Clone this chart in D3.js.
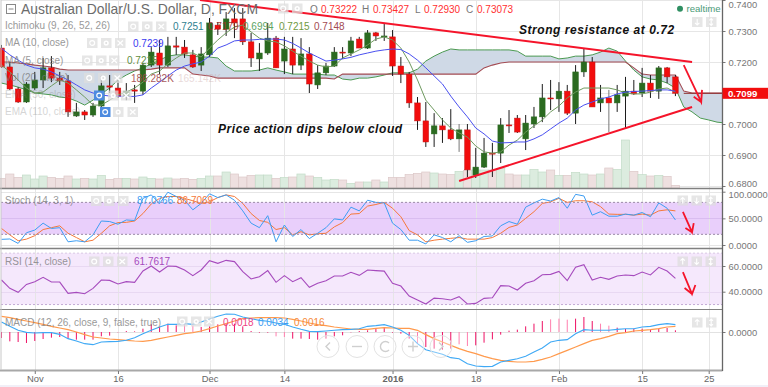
<!DOCTYPE html>
<html lang="en">
<head>
  <meta charset="UTF-8">
  <title>AUD/USD</title>
  <script src="https://d3js.org/d3.v7.min.js" charset="utf-8"></script>
  <style>
    html, body { margin: 0; padding: 0; background: #fff; overflow: hidden; }
    svg { display: block; font-family: 'Liberation Sans', Arial, sans-serif; }
    .axis text { fill: #777; font-size: 9.4px; }
    .axis .tick line { stroke: #777; }
    .axis .domain { display: none; }
    .legend { fill: #777; font-size: 10px; opacity: .75; }
  </style>
</head>
<body>
  <div id="wrapper"></div>
  <script>
    // daily candles, one entry per trading day
    const opens = [
      .7245,.7184,.7113,.7071,.7116,.7142,.7181,.7148,.7139,.7026,
      .7039,.7029,.7058,.7123,.7116,.7090,.7110,.7106,.7190,.7229,
      .7190,.7252,.7248,.7223,.7190,.7223,.7319,.7306,.7339,.7339,
      .7265,.7210,.7229,.7277,.7203,.7242,.7190,.7226,.7126,.7165,
      .7187,.7232,.7229,.7274,.7245,.7294,.7281,.7281,.7187,.7161,
      .7068,.7010,.6968,.6994,.6981,.6952,.6981,.6835,.6861,.6906,
      .6906,.6997,.7019,.6952,.7000,.7023,.7084,.7081,.7106,.7035,
      .7168,.7200,.7068,.7084,.7068,.7090,.7106,.7100,.7132,.7106,
      .7181,.7152]
    const highs = [
      .7255,.7200,.7119,.7135,.7168,.7213,.7219,.7168,.7158,.7068,
      .7045,.7068,.7155,.7158,.7142,.7132,.7126,.7197,.7248,.7271,
      .7281,.7281,.7271,.7239,.7248,.7342,.7329,.7361,.7374,.7374,
      .7294,.7261,.7326,.7284,.7281,.7281,.7277,.7248,.7190,.7197,
      .7248,.7248,.7281,.7281,.7303,.7297,.7326,.7303,.7216,.7168,
      .7087,.7071,.7035,.7019,.7048,.7000,.7000,.6923,.6955,.6939,
      .7019,.7045,.7029,.7029,.7055,.7129,.7142,.7135,.7126,.7190,
      .7242,.7216,.7126,.7110,.7126,.7152,.7142,.7181,.7158,.7187,
      .7184,.7158]
    const lows = [
      .7181,.7110,.7068,.7068,.7110,.7116,.7135,.7126,.7023,.7023,
      .7013,.7023,.7055,.7100,.7084,.7077,.7068,.7094,.7184,.7161,
      .7184,.7223,.7213,.7181,.7171,.7216,.7287,.7284,.7277,.7255,
      .7184,.7171,.7223,.7181,.7161,.7161,.7174,.7100,.7113,.7158,
      .7184,.7210,.7219,.7245,.7242,.7268,.7268,.7155,.7132,.7052,
      .6981,.6926,.6926,.6939,.6948,.6910,.6829,.6826,.6858,.6829,
      .6874,.6971,.6971,.6916,.6987,.7006,.7045,.7039,.7029,.7000,
      .7152,.7055,.7039,.6974,.7039,.6984,.7094,.7087,.7084,.7081,
      .7132,.7090]
    const closes = [
      .7184,.7113,.7071,.7129,.7142,.7181,.7148,.7139,.7039,.7039,
      .7029,.7058,.7123,.7119,.7090,.7106,.7106,.7190,.7232,.7190,
      .7252,.7248,.7226,.7184,.7226,.7326,.7306,.7339,.7326,.7265,
      .7213,.7229,.7277,.7181,.7242,.7190,.7226,.7129,.7165,.7187,
      .7232,.7229,.7268,.7245,.7294,.7284,.7284,.7187,.7161,.7068,
      .7010,.6942,.6994,.6981,.6952,.6981,.6852,.6861,.6906,.6903,
      .6997,.6994,.6974,.7003,.7023,.7084,.7081,.7106,.7035,.7168,
      .7200,.7055,.7084,.7068,.7094,.7106,.7097,.7132,.7106,.7181,
      .7152,.7099]
    const volumes = [
      77,112,85,104,72,96,85,77,96,72,
      77,72,101,69,75,77,72,88,77,72,
      80,72,77,69,75,96,96,128,112,88,
      101,104,104,77,85,88,112,96,85,64,
      69,64,37,48,48,64,48,85,85,107,
      117,128,120,112,107,133,139,144,144,144,
      157,112,104,104,149,128,144,101,101,125,
      112,104,112,160,149,384,133,107,96,101,
      93,21]
    const ma10 = [
      .7244,.7223,.7206,.7190,.7181,.7177,.7168,.7155,.7142,.7126,
      .7110,.7100,.7094,.7090,.7090,.7089,.7089,.7094,.7116,.7135,
      .7155,.7174,.7187,.7194,.7200,.7219,.7245,.7255,.7268,.7271,
      .7271,.7273,.7274,.7274,.7271,.7260,.7245,.7229,.7216,.7203,
      .7206,.7210,.7215,.7223,.7229,.7235,.7239,.7242,.7240,.7226,
      .7206,.7181,.7155,.7129,.7090,.7055,.7023,.6987,.6968,.6945,
      .6939,.6940,.6942,.6942,.6952,.6965,.6984,.7003,.7019,.7045,
      .7061,.7071,.7081,.7087,.7097,.7103,.7105,.7106,.7108,.7110,
      .7110,.7106]
    const ma5 = [
      .7190,.7168,.7142,.7116,.7100,.7103,.7123,.7142,.7132,.7110,
      .7087,.7061,.7061,.7077,.7094,.7103,.7116,.7135,.7161,.7171,
      .7194,.7213,.7229,.7229,.7216,.7245,.7271,.7294,.7313,.7319,
      .7297,.7277,.7268,.7265,.7252,.7235,.7219,.7203,.7190,.7184,
      .7187,.7213,.7226,.7239,.7255,.7274,.7281,.7271,.7245,.7200,
      .7142,.7077,.7045,.7013,.6987,.6971,.6958,.6929,.6910,.6906,
      .6910,.6932,.6948,.6974,.6994,.7013,.7039,.7058,.7084,.7103,
      .7116,.7116,.7116,.7116,.7110,.7100,.7097,.7097,.7103,.7113,
      .7116,.7103]
    // cloud runs past the last candle, it is displaced forward
    const senkouA = [
      .7132,.7126,.7119,.7110,.7100,.7097,.7094,.7087,.7084,.7074,
      .7061,.7077,.7097,.7116,.7142,.7158,.7171,.7181,.7194,.7206,
      .7219,.7223,.7223,.7219,.7216,.7216,.7213,.7187,.7171,.7171,
      .7171,.7174,.7181,.7174,.7168,.7161,.7161,.7161,.7161,.7158,
      .7158,.7145,.7142,.7148,.7148,.7152,.7158,.7165,.7165,.7165,
      .7177,.7203,.7219,.7232,.7242,.7239,.7239,.7239,.7239,.7239,
      .7239,.7239,.7235,.7219,.7219,.7219,.7219,.7210,.7213,.7219,
      .7219,.7223,.7232,.7245,.7235,.7203,.7174,.7152,.7145,.7142,
      .7132,.7116,.7055,.7039,.7019,.7013,.7006,.7003]
    const senkouB = [
      .7200,.7200,.7197,.7194,.7190,.7187,.7184,.7177,.7174,.7174,
      .7174,.7174,.7174,.7174,.7174,.7174,.7174,.7174,.7177,.7181,
      .7181,.7181,.7181,.7161,.7158,.7155,.7148,.7148,.7148,.7148,
      .7148,.7148,.7148,.7148,.7148,.7148,.7148,.7148,.7148,.7148,
      .7145,.7161,.7161,.7161,.7161,.7161,.7161,.7161,.7161,.7161,
      .7161,.7161,.7161,.7161,.7161,.7161,.7161,.7161,.7181,.7190,
      .7197,.7200,.7200,.7200,.7200,.7200,.7200,.7200,.7200,.7200,
      .7200,.7200,.7200,.7200,.7200,.7200,.7181,.7161,.7158,.7158,
      .7158,.7158,.7106,.7100,.7100,.7100,.7100,.7100]
    const stochK = [
      10.6,11.3,3,23,28,41,31,32.5,6,8,
      6,19,45,44,39,47,46,87.5,94,78,
      99,91,84,66,78,96,89,94,84,64,
      41,32.5,55,6,37.5,16,29,12,22,32.5,
      49,47,71,64,84,80,79,41,29,9,
      9,2,19,14,6,17.5,5,8,16,17,
      36,44,39,71,79,86,82.5,89,69,95,
      92,56,62.5,54,54,58,56,61,53,79,
      69,47]
    const stochD = [
      31,19,8,11,17.5,29,32.5,36,22,14,
      6,9,22,36,42,42.5,45,59,77,87.5,
      91,91,87.5,83,78,81,89,94,91,78,
      59,46,42.5,29,32.5,19,25,19,21,22,
      34,42,58,59,73,76,80,69,53,27,
      19,6,9,11,12.5,14,11,11,11,14,
      22,33,37.5,50,62.5,78,81,87.5,80,83,
      83,81,72,58,57.5,57.5,56,58,56,64,
      66,64]
    const rsi = [
      49.1,42.6,39.5,45.7,47.8,51.2,47.5,47.5,38.7,39.5,
      38.4,42.6,49.1,48.8,46,47.8,47.3,56.1,60,55.3,
      60,59.7,56.9,52.5,56.9,64.2,62.1,64.4,63.4,55.6,
      49.9,51.7,56.4,47.3,52.5,47.8,50.9,43.4,46.5,48.6,
      52.2,52.2,55.1,52.7,56.9,56.4,56,46.5,44.4,36.6,
      33.5,30.4,35,34.5,33.5,36.1,30.4,30.9,34.8,35.3,
      44.7,44.4,41.3,46.5,48.6,53.2,53.5,55.8,48.6,59,
      61,49.1,51.2,49.6,52.2,53,52.5,55.3,53,59,
      56.1,50.4]
    const macd = [
      .00286,.00162,.00048,-.0001,-.00029,-.00019,-.00019,-.00067,-.0019,-.00257,
      -.00333,-.00362,-.00286,-.00276,-.00267,-.00238,-.00162,-.00048,.00048,.00143,
      .00219,.00219,.00238,.00219,.00286,.00371,.00448,.00514,.00505,.00429,
      .00381,.00333,.00305,.00257,.00219,.00143,.00076,.00019,.0001,.00029,
      .00048,.00067,.00076,.00095,.00162,.00181,.0021,.00143,.00048,-.00095,
      -.00333,-.00505,-.00571,-.00638,-.00733,-.00762,-.00905,-.00971,-.0099,-.00981,
      -.00857,-.0081,-.00762,-.00695,-.00571,-.00457,-.00286,-.00238,-.00219,-.00048,
      .00067,.00048,.00048,.00048,.00076,.00095,.00095,.00143,.00162,.0021,
      .00238,.0021]
    const macdSignal = [
      .00448,.0041,.00362,.00314,.00267,.00219,.00162,.00114,.00067,0,
      -.00076,-.00143,-.00171,-.002,-.00219,-.00238,-.00257,-.00267,-.00238,-.0019,
      -.00143,-.00095,-.00048,-.00019,.00029,.00095,.00171,.00238,.00314,.00381,
      .004,.0041,.0041,.0041,.004,.00362,.00314,.00257,.0021,.00181,
      .00143,.00114,.00086,.00076,.00076,.00105,.00124,.00114,.00105,.00105,
      .00048,-.00076,-.0019,-.00286,-.00381,-.00476,-.00552,-.00619,-.00695,-.00762,
      -.0081,-.00838,-.00857,-.00857,-.00838,-.00781,-.00714,-.00619,-.00524,-.00429,
      -.00333,-.00238,-.0019,-.00124,-.00048,-.00019,.00029,.00048,.00067,.00095,
      .00143,.00162]
    const macdHist = [
      -.00171,-.00267,-.00286,-.00314,-.00257,-.002,-.00162,-.00143,-.0019,-.00219,
      -.00219,-.00219,-.00124,-.00105,-.0001,.00029,.00019,.00095,.00219,.00143,
      .00238,.0019,.00238,.0019,.00143,.00162,.00219,.00257,.00238,.00162,
      .00029,-.00019,-.00019,-.00124,-.00143,-.0019,-.0019,-.002,-.00219,-.0019,
      -.00124,-.00095,-.0001,.00029,.00048,.00105,.00124,-.00019,-.00048,-.0019,
      -.00333,-.00429,-.00476,-.00505,-.00476,-.00352,-.004,-.00381,-.00305,-.0021,
      -.00076,.00038,.00067,.00162,.00238,.00314,.00362,.00381,.00352,.00381,
      .00429,.00314,.00238,.00181,.00124,.00086,.00095,.00095,.00067,.00095,
      .00114,.00048]
    // histogram days that the source paints in the paler pink
    const paleHistDays = [22, 23, 33, 34, 50, 55, 56, 66, 67, 68, 72, 73]

    // index of the trading day under each date label
    const timeTicks = [4, 14, 25, 34, 47, 57, 67, 77, 85]
    const timeLabels = ['Nov', '16', 'Dec', '14', '2016', '18', 'Feb', '15', '25']
    const priceTicks = [.74, .73, .72, .70, .69, .68]
    const lastPrice = .7099

    // hand drawn annotations: [day index, value]
    const resistanceLine = [[23.86, .74], [83, .72]]
    const supportLine = [[55, .6816], [83, .7055]]
    const priceArrow = [[83.2, .7088], [84.1, .7071], [84.2, .7110], [84.1, .7071], [82, .7190]]
    const stochArrow = [[82.2, 32], [83, 24], [83.2, 41], [83, 24], [81.9, 62]]
    const rsiArrow = [[82.1, 42.9], [83, 38.2], [83.4, 45.2], [83, 38.2], [81.9, 55.3]]

    const width = 768, height = 387
    const plotRight = 722.5

    const svg = d3.select('#wrapper').append('svg')
      .attr('width', width)
      .attr('height', height)

    const defs = svg.append('defs')
    const addClip = (id, top, bottom) => defs.append('clipPath').attr('id', id)
      .append('rect').attr('x', 0).attr('y', top).attr('width', plotRight).attr('height', bottom - top)
    addClip('clip-price', 0, 188)
    addClip('clip-stoch', 189, 248)
    addClip('clip-rsi', 249, 309)
    addClip('clip-macd', 310, 370)

    const xScale = d3.scaleLinear().domain([0, 85]).range([1.5, 708.7])
    const priceScale = d3.scaleLinear().domain([.68, .74]).range([186, 0])
    const volumeScale = d3.scaleLinear().domain([0, 384]).range([188, 140])
    const stochScale = d3.scaleLinear().domain([0, 100]).range([245, 191.7])
    const rsiScale = d3.scaleLinear().domain([40, 60]).range([291.7, 266])
    const macdScale = d3.scaleLinear().domain([-.01, .01]).range([367, 297])

    const days = d3.range(closes.length)

    // bottom page strip
    svg.append('rect').attr('x', 0).attr('y', 385).attr('width', width).attr('height', 2).attr('fill', '#f1eff7')

    // stoch and rsi bands
    svg.append('rect').attr('x', 1).attr('y', stochScale(80)).attr('width', plotRight - 1)
      .attr('height', stochScale(20) - stochScale(80)).attr('fill', '#e9cffb')
    svg.append('rect').attr('x', 1).attr('y', rsiScale(70)).attr('width', plotRight - 1)
      .attr('height', rsiScale(30) - rsiScale(70)).attr('fill', '#f5e8fc')

    // grid
    const grid = svg.append('g').attr('stroke', '#e6e6e6').attr('stroke-width', 1)
    grid.selectAll('.v').data(timeTicks).join('line')
      .attr('x1', d => Math.round(xScale(d)) + .5).attr('x2', d => Math.round(xScale(d)) + .5)
      .attr('y1', 0).attr('y2', 370)
    const hGrid = (scale, ticks, colour) => svg.append('g').selectAll('line').data(ticks).join('line')
      .attr('x1', 1).attr('x2', plotRight)
      .attr('y1', d => Math.round(scale(d)) + .5).attr('y2', d => Math.round(scale(d)) + .5)
      .attr('stroke', colour)
    hGrid(priceScale, d3.range(0, 7).map(i => .68 + i * .01), '#e6e6e6')
    hGrid(stochScale, [100, 0], '#e6e6e6')
    hGrid(stochScale, [50], '#d9bdf0')
    hGrid(rsiScale, [60, 40], '#e8d8f2')
    hGrid(macdScale, [0], '#e2e2e2')

    // volume
    const volumeG = svg.append('g').attr('clip-path', 'url(#clip-price)')
    volumeG.selectAll('rect').data(days).join('rect')
      .attr('x', d => xScale(d) - 4.1)
      .attr('width', 8.2)
      .attr('y', d => volumeScale(volumes[d]))
      .attr('height', d => volumeScale(0) - volumeScale(volumes[d]))
      .attr('fill', d => closes[d] >= opens[d] ? '#dcecdf' : '#eee0e0')
      .attr('stroke', d => closes[d] >= opens[d] ? '#c3dcc8' : '#dcc8c8')
      .attr('stroke-width', .7)

    // cloud
    const priceG = svg.append('g').attr('clip-path', 'url(#clip-price)')
    const cloudDays = d3.range(senkouA.length)
    priceG.append('path').datum(cloudDays)
      .attr('fill', '#cfd9e6')
      .attr('d', d3.area()
        .x(d => xScale(d))
        .y0(d => priceScale(senkouA[d]))
        .y1(d => priceScale(senkouB[d])))
    const seriesLine = (values, scale) => d3.line()
      .defined(d => values[d] !== undefined)
      .x(d => xScale(d))
      .y(d => scale(values[d]))
    priceG.append('path').datum(cloudDays).attr('fill', 'none')
      .attr('stroke', '#4c9a52').attr('stroke-width', 1).attr('d', seriesLine(senkouA, priceScale))
    priceG.append('path').datum(cloudDays).attr('fill', 'none')
      .attr('stroke', '#a34a52').attr('stroke-width', 1.1).attr('d', seriesLine(senkouB, priceScale))

    // candles
    priceG.selectAll('.wick').data(days).join('line')
      .attr('class', 'wick')
      .attr('x1', d => xScale(d)).attr('x2', d => xScale(d))
      .attr('y1', d => priceScale(highs[d])).attr('y2', d => priceScale(lows[d]))
      .attr('stroke', d => (d === 55 || d === 73) ? '#777' : '#1c1c1c')
      .attr('stroke-width', 1)
    priceG.selectAll('.body').data(days).join('rect')
      .attr('class', 'body')
      .attr('x', d => xScale(d) - 2.8)
      .attr('width', 5.6)
      .attr('y', d => priceScale(Math.max(opens[d], closes[d])))
      .attr('height', d => Math.max(1, Math.abs(priceScale(opens[d]) - priceScale(closes[d]))))
      .attr('fill', d => closes[d] >= opens[d] ? '#2b6a20' : '#f20d0d')
      .attr('stroke', d => closes[d] >= opens[d] ? '#2b6a20' : '#c21818')
      .attr('stroke-width', .5)

    // moving averages
    priceG.append('path').datum(days).attr('fill', 'none')
      .attr('stroke', '#6f9a5f').attr('stroke-width', 1).attr('d', seriesLine(ma5, priceScale))
    priceG.append('path').datum(days).attr('fill', 'none')
      .attr('stroke', '#4a50f0').attr('stroke-width', 1).attr('d', seriesLine(ma10, priceScale))

    // last price line, on top of the cloud
    priceG.append('line')
      .attr('x1', xScale(82)).attr('x2', plotRight)
      .attr('y1', priceScale(lastPrice)).attr('y2', priceScale(lastPrice))
      .attr('stroke', '#8c2a2a').attr('stroke-width', 1)

    // stochastic
    const stochG = svg.append('g').attr('clip-path', 'url(#clip-stoch)')
    stochG.append('path').datum(days).attr('fill', 'none').attr('stroke', '#f5793a').attr('stroke-width', 1)
      .attr('d', seriesLine(stochD, stochScale))
    stochG.append('path').datum(days).attr('fill', 'none').attr('stroke', '#3d9df2').attr('stroke-width', 1)
      .attr('d', seriesLine(stochK, stochScale))
    const dotted = (scale, value, colour) => svg.append('line')
      .attr('x1', 1).attr('x2', plotRight)
      .attr('y1', scale(value)).attr('y2', scale(value))
      .attr('stroke', colour).attr('stroke-dasharray', '2 2').attr('stroke-width', 1)
    dotted(stochScale, 80, '#9b8aa6')
    dotted(stochScale, 20, '#9b8aa6')

    // rsi
    const rsiG = svg.append('g').attr('clip-path', 'url(#clip-rsi)')
    rsiG.append('path').datum(days).attr('fill', 'none').attr('stroke', '#a64bbd').attr('stroke-width', 1.1)
      .attr('d', seriesLine(rsi, rsiScale))
    dotted(rsiScale, 70, '#d9c8e4')
    dotted(rsiScale, 30, '#c3a9d4')

    // macd
    const macdG = svg.append('g').attr('clip-path', 'url(#clip-macd)')
    macdG.selectAll('line').data(days).join('line')
      .attr('x1', d => xScale(d)).attr('x2', d => xScale(d))
      .attr('y1', macdScale(0)).attr('y2', d => macdScale(macdHist[d]))
      .attr('stroke', d => paleHistDays.includes(d) ? '#ff7fae' : '#ee0f63')
      .attr('stroke-width', 1)
    macdG.append('path').datum(days).attr('fill', 'none').attr('stroke', '#ff9a4d').attr('stroke-width', 1.2)
      .attr('d', seriesLine(macdSignal, macdScale))
    macdG.append('path').datum(days).attr('fill', 'none').attr('stroke', '#3fa9f5').attr('stroke-width', 1.1)
      .attr('d', seriesLine(macd, macdScale))

    // red annotations
    const pointLine = (scale) => d3.line().x(d => xScale(d[0])).y(d => scale(d[1]))
    const drawMark = (points, scale, w) => svg.append('path').datum(points)
      .attr('fill', 'none').attr('stroke', '#f5142a').attr('stroke-width', w)
      .attr('d', pointLine(scale))
    drawMark(resistanceLine, priceScale, 2)
    drawMark(supportLine, priceScale, 2)
    drawMark(priceArrow, priceScale, 1.8)
    drawMark(stochArrow, stochScale, 1.8)
    drawMark(rsiArrow, rsiScale, 1.8)

    // panel separators
    const separators = [[188.5, '#808080', 1.4], [248.5, '#808080', 1.4], [309.5, '#808080', 1.2], [370.5, '#a8a8a8', 2]]
    svg.append('g').selectAll('line').data(separators).join('line')
      .attr('x1', 0).attr('x2', plotRight)
      .attr('y1', d => d[0]).attr('y2', d => d[0])
      .attr('stroke', d => d[1]).attr('stroke-width', d => d[2])
    svg.append('line').attr('x1', 1).attr('x2', 1).attr('y1', 0).attr('y2', 370).attr('stroke', '#c8c8c8')

    // axes
    const rightAxis = (scale, ticks) => svg.append('g')
      .attr('class', 'axis')
      .attr('transform', `translate(${plotRight}, 0)`)
      .call(d3.axisRight(scale).tickValues(ticks).tickFormat(d3.format('.4f')).tickSize(3).tickPadding(3))
    const priceAxis = rightAxis(priceScale, priceTicks)
    const stochAxis = rightAxis(stochScale, [100, 50, 0])
    rightAxis(rsiScale, [60, 40])
    rightAxis(macdScale, [0])
    // nudge the labels that would clip at the top or run into the next panel's label
    priceAxis.selectAll('text').attr('y', d => d === .74 ? 4 : d === .68 ? -2.5 : 0)
    stochAxis.selectAll('text').attr('y', d => d === 100 ? 2.5 : 0)
    svg.append('line').attr('x1', plotRight).attr('x2', plotRight).attr('y1', 0).attr('y2', 371)
      .attr('stroke', '#666').attr('stroke-width', 1.3)

    const timeAxis = svg.append('g')
      .attr('class', 'axis')
      .attr('transform', 'translate(0, 371)')
      .call(d3.axisBottom(xScale).tickValues(timeTicks)
        .tickFormat((d, i) => timeLabels[i]).tickSize(3).tickPadding(1))
    timeAxis.selectAll('text')
      .style('font-weight', (d, i) => timeLabels[i] === '2016' ? 'bold' : 'normal')
      .style('fill', '#666')

    // last price flag
    svg.append('rect').attr('x', plotRight).attr('y', priceScale(lastPrice) - 5.5)
      .attr('width', 45.5).attr('height', 11).attr('fill', '#f20d0d')
    svg.append('text').attr('x', 728).attr('y', priceScale(lastPrice) + 3.6)
      .attr('fill', '#fff').style('font-size', '9.6px').style('font-weight', 'bold').text(lastPrice.toFixed(4))

    // pale indicator buttons
    const button = (x, y, kind) => {
      const g = svg.append('g').attr('transform', `translate(${x}, ${y})`)
      const active = kind === 'active'
      g.append('rect').attr('width', 10.5).attr('height', 10)
        .attr('fill', active ? '#4d8be0' : '#dedede').attr('opacity', active ? 1 : .75)
      if (kind === 'eye' || active) {
        g.append('circle').attr('cx', 5.2).attr('cy', 5).attr('r', 2.4)
          .attr('fill', 'none').attr('stroke', '#fff').attr('stroke-width', 1.2)
      } else if (kind === 'gear') {
        g.append('circle').attr('cx', 5.2).attr('cy', 5).attr('r', 2.6).attr('fill', '#fff')
        g.append('circle').attr('cx', 5.2).attr('cy', 5).attr('r', 1).attr('fill', '#dedede')
      } else if (kind === 'x') {
        g.append('path').attr('d', 'M2.5 2.5L8 7.5M8 2.5L2.5 7.5').attr('stroke', '#fff').attr('stroke-width', 1.3)
      } else if (kind === 'up' || kind === 'down' || kind === 'both') {
        const arrow = { up: 'M5.2 2V8M3 4.2L5.2 2L7.4 4.2', down: 'M5.2 2V8M3 5.8L5.2 8L7.4 5.8', both: 'M5.2 1.6V8.4M3.4 3.4L5.2 1.6L7 3.4M3.4 6.6L5.2 8.4L7 6.6' }[kind]
        g.append('path').attr('d', arrow).attr('fill', 'none').attr('stroke', '#fff').attr('stroke-width', 1.1)
      }
    }
    const buttonRow = (xs, y, kinds = ['eye', 'gear', 'x']) => xs.forEach((x, i) => button(x, y, kinds[i]))

    buttonRow([128, 142, 156], 21.5)
    buttonRow([87, 101, 115], 38)
    buttonRow([82, 96, 109], 55.5)
    buttonRow([84, 98, 112], 73)
    buttonRow([94, 108, 121], 90.5, ['active', 'gear', 'x'])
    buttonRow([100, 113, 127.5], 107, ['active', 'gear', 'x'])
    buttonRow([278, 292], 3.5, ['eye', 'gear'])
    buttonRow([91, 104, 118], 196)
    buttonRow([89, 103, 117], 256.5)
    buttonRow([177, 191, 204], 316.5)
    buttonRow([692, 706], 17, ['down', 'both'])
    buttonRow([677.5, 691.5, 705.5], 195.5, ['up', 'down', 'both'])
    buttonRow([677.5, 691.5, 705.5], 256.5, ['up', 'down', 'both'])
    buttonRow([692, 706], 317.5, ['up', 'both'])

    // zoom and scroll controls on the macd panel
    const navX = [328, 357, 385, 413, 441]
    const nav = svg.append('g').attr('stroke', '#e2e2e2').attr('fill', 'none')
    nav.selectAll('circle').data(navX).join('circle')
      .attr('cx', d => d).attr('cy', 346.5).attr('r', 11).attr('stroke-width', 1).attr('fill', '#fff').attr('fill-opacity', .35)
    const navGlyphs = ['M330 342.5L326 346.5L330 350.5', 'M352 346.5H362', 'M389 343A5 5 0 1 0 389 350', 'M408 346.5H418M413 341.5V351.5', 'M439 342.5L443 346.5L439 350.5']
    nav.selectAll('path').data(navGlyphs).join('path')
      .attr('d', d => d).attr('stroke', '#cfcfcf').attr('stroke-width', 1.4)

    // legends
    const legend = (x, y, text, colour, extraOpacity) => svg.append('text')
      .attr('class', 'legend')
      .attr('x', x).attr('y', y)
      .style('fill', colour || '#777')
      .style('opacity', extraOpacity || .75)
      .text(text)

    // title row
    svg.append('rect').attr('x', 6.5).attr('y', 4.5).attr('width', 9).attr('height', 9)
      .attr('fill', 'none').attr('stroke', '#888')
    svg.append('line').attr('x1', 8.5).attr('x2', 13.5).attr('y1', 9).attr('y2', 9).attr('stroke', '#888')
    svg.append('text').attr('x', 21).attr('y', 14).attr('fill', '#6b6b6b')
      .style('font-size', '13.9px').text('Australian Dollar/U.S. Dollar, D, FXCM')

    const ohlc = [['O', 310, '0.73222', 321], ['H', 362, '0.73427', 373], ['L', 415, '0.72930', 424], ['C', 466, '0.73073', 477]]
    ohlc.forEach(d => {
      svg.append('text').attr('x', d[1]).attr('y', 13).attr('fill', '#777').style('font-size', '10px').text(d[0])
      svg.append('text').attr('x', d[3]).attr('y', 13).attr('fill', '#ff3030').style('font-size', '10px').text(d[2])
    })

    legend(5, 29, 'Ichimoku (9, 26, 52, 26)')
    legend(173, 30, '0.7251', '#2f7f8f', 1)
    legend(208, 30, '0.7179', '#a03030', .9)
    legend(243, 30, '0.6994', '#4c9a52', .9)
    legend(279, 30, '0.7215', '#6f9a3f', 1)
    legend(314, 30, '0.7148', '#a34a52', 1)
    legend(5, 46, 'MA (10, close)')
    legend(133, 47, '0.7239', '#3a3af0', 1)
    legend(5, 64, 'MA (5, close)')
    legend(127, 64, '0.7215', '#5f8f3f', 1)
    legend(5, 81, 'Vol (20, close)')
    legend(131, 82, '186.282K', '#a34a4a', .9)
    legend(178, 82, '165.142K', '#c9a4a4', .4)
    legend(5, 98, 'EMA (50, close)', '#777', .3)
    legend(5, 115, 'EMA (110, close)', '#777', .3)
    legend(5, 204, 'Stoch (14, 3, 1)')
    legend(137, 204, '87.0766', '#3d9df2', 1)
    legend(177, 204, '86.7069', '#f5793a', 1)
    legend(5, 265, 'RSI (14, close)')
    legend(134, 265, '61.7617', '#a64bbd', 1)
    legend(5, 326, 'MACD (12, 26, close, 9, false, true)')
    legend(223, 326, '0.0018', '#ee3f83', 1)
    legend(258, 326, '0.0034', '#3d9df2', 1)
    legend(294, 326, '0.0016', '#f5893a', 1)

    svg.append('circle').attr('cx', 680).attr('cy', 8.8).attr('r', 3).attr('fill', '#2f8f62')
    svg.append('text').attr('x', 686.5).attr('y', 12).attr('fill', '#4a9a78').style('font-size', '9.6px').text('realtime')

    // comments written on the chart
    const note = (x, y, text, size) => svg.append('text')
      .attr('x', x).attr('y', y)
      .attr('fill', '#111')
      .style('font-style', 'italic').style('font-weight', 'bold')
      .style('font-size', size + 'px').style('letter-spacing', '.55px')
      .text(text)
    note(519, 34, 'Strong resistance at 0.72', 12)
    note(218, 133, 'Price action dips below cloud', 12)
  </script>
</body>
</html>
